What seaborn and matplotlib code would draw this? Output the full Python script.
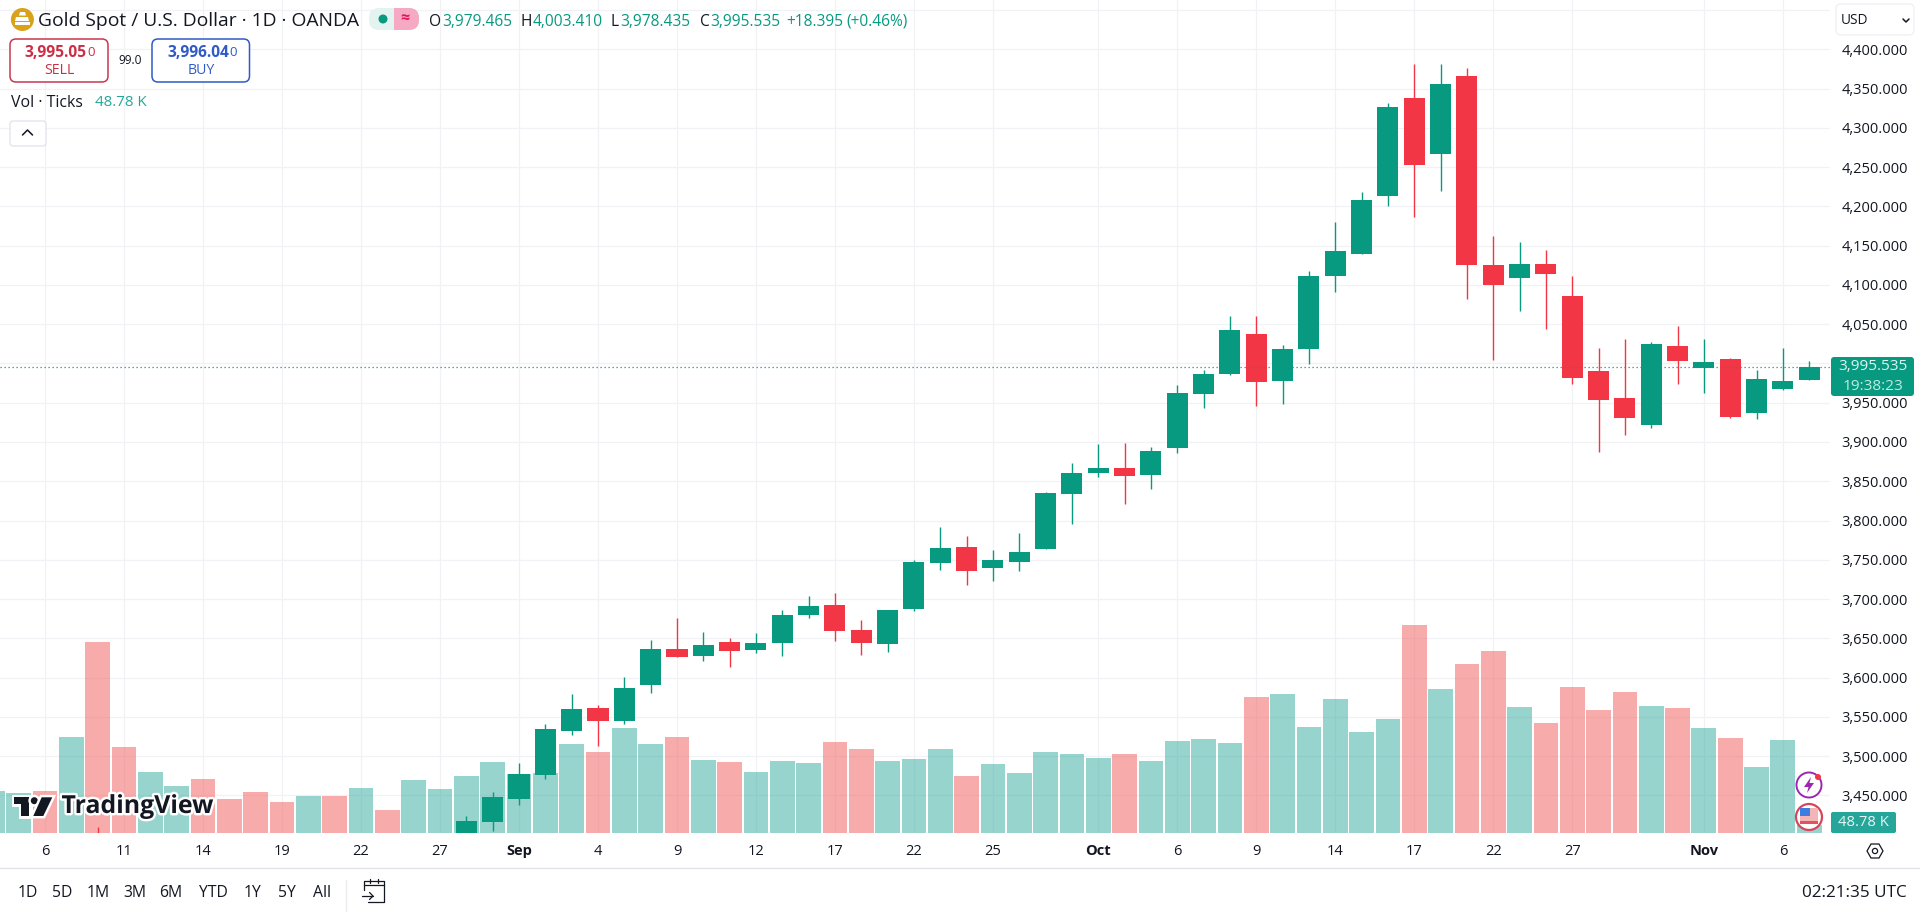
import numpy as np
import pandas as pd
import matplotlib
matplotlib.use("Agg")
import matplotlib.pyplot as plt
import matplotlib.patheffects as pe
from matplotlib.patches import FancyBboxPatch, Circle, Polygon, Rectangle
import seaborn as sns

# XAUUSD daily sessions (August bodies sit below the pane)
opens = [3362, 3373, 3381, 3369, 3396, 3394, 3342, 3348, 3356, 3337,
         3336, 3332, 3315, 3347, 3339, 3371, 3365, 3393, 3396, 3416.6,
         3445.4, 3476, 3532, 3561.3, 3544.7, 3590.6, 3636.4, 3627.5, 3645.3, 3635.1,
         3644, 3679.7, 3692.4, 3660.6, 3642.7, 3687.3, 3745.9, 3766.2, 3739.5, 3747.1,
         3764.1, 3833.3, 3860, 3866.4, 3857.5, 3891.8, 3960.5, 3986, 4038.1, 3977.1,
         4017.8, 4111.6, 4140, 4212.6, 4338.1, 4267.3, 4366.1, 4125.6, 4109.1, 4126.9,
         4086.2, 3990.7, 3956.4, 3921.2, 4022.6, 3994.6, 4006, 3937.3, 3967.9, 3979.465]
highs = [3385, 3391, 3385, 3397, 3409.4, 3399, 3358, 3369, 3375, 3349,
         3358, 3345, 3350, 3351, 3378, 3376, 3393, 3398, 3423.8, 3454.3,
         3491.3, 3540.9, 3579.1, 3565.1, 3600.8, 3647.9, 3675.9, 3658, 3650.4, 3656.7,
         3686, 3703.9, 3707.7, 3673.3, 3686.5, 3749.7, 3791.7, 3780.2, 3762.4, 3784.1,
         3835.8, 3872.7, 3896.9, 3898.2, 3893.1, 3972, 3992.3, 4061, 4059.8, 4024.1,
         4118.3, 4180.3, 4218.5, 4331.7, 4381.3, 4381.3, 4376.3, 4162.5, 4154.9, 4145.1,
         4110.8, 4020, 4031.5, 4027.2, 4048, 4031.5, 4006.7, 3992, 4020, 4003.41]
lows = [3346, 3358, 3358, 3365, 3378, 3341, 3331, 3345, 3330, 3330,
        3323, 3315, 3311, 3326, 3321, 3351, 3352, 3376, 3387, 3405.1,
        3438.2, 3470.9, 3526.9, 3512.9, 3540.9, 3580.4, 3626, 3621.1, 3613.5, 3631.3,
        3627.5, 3675.8, 3646.6, 3628.7, 3632.6, 3684.8, 3737, 3717.9, 3722.9, 3735.7,
        3764.1, 3795.1, 3854.9, 3820.6, 3839.6, 3885.5, 3942.7, 3985, 3945.3, 3947.8,
        3998.7, 4091.3, 4139, 4200.7, 4186.7, 4220.2, 4081.5, 4004.7, 4067.1, 4044.2,
        3973.4, 3887.7, 3909.3, 3917.4, 3973.4, 3962.8, 3930.1, 3929.7, 3965.7, 3978.435]
closes = [3373, 3381, 3369, 3396, 3394, 3342, 3348, 3356, 3335, 3336,
          3332, 3315, 3347, 3339, 3371, 3365, 3393, 3396, 3417.4, 3448,
          3477.3, 3534.6, 3560, 3544.7, 3586.8, 3636.4, 3626.2, 3641.5, 3633.8, 3644,
          3679.7, 3691.1, 3659.3, 3644, 3686, 3747.1, 3765, 3735.7, 3749.7, 3759.9,
          3835, 3860, 3866.4, 3856.2, 3888, 3961.8, 3986, 4043.2, 3975.8, 4017.8,
          4111.9, 4143.4, 4208.3, 4326.6, 4253.3, 4355.9, 4124.8, 4099.3, 4126.9, 4114.2,
          3981.8, 3953, 3930.1, 4025.1, 4002.6, 4002.2, 3932.2, 3980.6, 3978, 3995.535]
# tick volume in thousands
volume = [265, 252, 265, 609, 1213, 545, 386, 297, 341, 214,
          259, 195, 233, 233, 284, 144, 335, 278, 361, 450,
          373, 378, 564, 513, 666, 564, 609, 462, 450, 386,
          456, 443, 577, 532, 456, 469, 532, 361, 437, 380,
          513, 501, 475, 501, 456, 583, 596, 571, 863, 882,
          672, 851, 641, 723, 1321, 914, 1073, 1156, 800, 698,
          927, 781, 895, 806, 793, 666, 602, 418, 590, 48.78]
tick_dates = ["2025-08-06", "2025-08-11", "2025-08-14", "2025-08-19", "2025-08-22", "2025-08-27",
              "2025-09-01", "2025-09-04", "2025-09-09", "2025-09-12", "2025-09-17", "2025-09-22",
              "2025-09-25", "2025-10-01", "2025-10-06", "2025-10-09", "2025-10-14", "2025-10-17",
              "2025-10-22", "2025-10-27", "2025-11-03", "2025-11-06"]
tick_names = ["6", "11", "14", "19", "22", "27", "Sep", "4", "9", "12", "17", "22",
              "25", "Oct", "6", "9", "14", "17", "22", "27", "Nov", "6"]
price_ticks = list(range(3450, 4451, 50))
last_price = 3995.535

UP = "#089981"
DOWN = "#F23645"
INK = "#131722"
GRID = "#F0F2F6"

sns.set_style("white")
plt.rcParams["font.family"] = ["Open Sans", "DejaVu Sans"]

df = pd.DataFrame({"date": pd.bdate_range("2025-08-04", "2025-11-07"), "open": opens, "high": highs,
                   "low": lows, "close": closes, "volume": volume})
df["pos"] = np.arange(len(df))
df["side"] = np.where(df["close"] >= df["open"], "up", "down")

W, H = 1920, 913
pane_right, pane_bottom = 1830, 832.7
fig = plt.figure(figsize=(W / 100, H / 100), dpi=100, facecolor="white")

# price axes holds the grid and ticks, volume and candles sit on twins above it
ax = fig.add_axes([0, 1 - pane_bottom / H, pane_right / W, pane_bottom / H])
ax_vol = ax.twinx()
ax_candle = ax.twinx()
ax.set_zorder(1)
ax_vol.set_zorder(2)
ax_candle.set_zorder(3)
ax_vol.patch.set_visible(False)
ax_candle.patch.set_visible(False)

sns.barplot(data=df, x="pos", y="volume", hue="side", palette={"up": "#26A69A", "down": "#EF5350"},
            native_scale=True, dodge=False, width=0.94, saturation=1, alpha=0.48, linewidth=0,
            legend=False, ax=ax_vol)

colors = [UP if s == "up" else DOWN for s in df["side"]]
ax_candle.vlines(df["pos"], df["low"], df["high"], colors=colors, linewidth=1.0)
ax_candle.bar(df["pos"], df["close"] - df["open"], bottom=df["open"], width=0.8, color=colors, linewidth=0)
ax_candle.axhline(last_price, color=UP, linewidth=0.9, linestyle=(0, (1, 2.2)), zorder=5)

xlim = (0.29, 69.79)
ylim = (3402.5, 4462.8)
for a in (ax, ax_vol, ax_candle):
    a.set_xlim(xlim)
    a.set_xlabel("")
    a.set_ylabel("")
    sns.despine(ax=a, left=True, right=True, top=True, bottom=True)
ax.set_ylim(ylim)
ax_candle.set_ylim(ylim)
ax_vol.set_ylim(0, 5298)
ax_vol.set_yticks([])
ax_candle.set_yticks([])
ax_vol.tick_params(labelbottom=False, bottom=False)
ax_candle.tick_params(labelbottom=False, bottom=False)

pos_lookup = dict(zip(df["date"].dt.strftime("%Y-%m-%d"), df["pos"]))
ax.set_xticks([pos_lookup[d] for d in tick_dates])
ax.set_xticklabels(tick_names, fontsize=10.5, color=INK)
for lab in ax.get_xticklabels():
    if lab.get_text() in ("Sep", "Oct", "Nov"):
        lab.set_fontweight("bold")
ax.set_yticks(price_ticks)
ax.set_yticklabels(["" if v == 4450 else f"{v:,.3f}" for v in price_ticks], fontsize=10.5, color=INK)
ax.yaxis.tick_right()
ax.tick_params(axis="x", length=0, pad=8)
ax.tick_params(axis="y", length=0, pad=8.2)
ax.grid(True, color=GRID, linewidth=0.9)
ax.set_axisbelow(True)

# TradingView chrome, placed in screen pixels
ui = fig.add_axes([0, 0, 1, 1], zorder=10)
ui.set_xlim(0, W)
ui.set_ylim(H, 0)
ui.axis("off")


def box(x0, y0, x1, y1, fc="white", ec="none", r=5, lw=1.0):
    p = FancyBboxPatch((x0 + r, y0 + r), x1 - x0 - 2 * r, y1 - y0 - 2 * r, boxstyle=f"round,pad={r}",
                       fc=fc, ec=ec, lw=lw, mutation_aspect=1)
    ui.add_patch(p)


def put(x, y, s, size=10.2, color=INK, ha="left", weight="normal"):
    ui.text(x, y, s, fontsize=size, color=color, ha=ha, va="center", fontweight=weight)


# title row
ui.add_patch(Circle((22.4, 19.5), 11.5, fc="#D9A21B", ec="none"))
ui.add_patch(Polygon([(16, 17), (28, 17), (29, 21), (15, 21)], fc="white", ec="none"))
ui.add_patch(Polygon([(20, 12), (25, 12), (26, 15.5), (19, 15.5)], fc="white", ec="none"))
ui.add_patch(Rectangle((14.5, 22), 15, 3, fc="white", ec="none"))
put(38.5, 21, "Gold Spot / U.S. Dollar · 1D · OANDA", size=13.9)
box(369, 8, 419, 30, fc="#E3F3F0", r=10)
ui.add_patch(FancyBboxPatch((404, 18), 5, 2, boxstyle="round,pad=10", fc="#F6A9C3", ec="none"))
ui.add_patch(Rectangle((394, 8), 10, 22, fc="#F6A9C3", ec="none"))
ui.add_patch(Circle((383, 19), 4.5, fc=UP, ec="none"))
put(405, 19, "≈", size=11.5, color="#E0185F", ha="center", weight="bold")

header = [(429, "O", INK), (442.5, "3,979.465", UP), (520, "H", INK), (532.5, "4,003.410", UP),
          (611, "L", INK), (620.5, "3,978.435", UP), (700, "C", INK), (710, "3,995.535", UP),
          (786, "+18.395", UP), (846, "(+0.46%)", UP)]
for hx, htxt, hcol in header:
    put(hx, 22, htxt, size=11.2, color=hcol)

# sell / buy boxes
box(10, 39, 108, 82, ec="#C9384E", r=6, lw=1.1)
put(24, 53, "3,995.05", size=11.2, color="#CC2F45", weight="bold")
put(87, 52, "0", size=9.5, color="#CC2F45")
put(59, 70.5, "SELL", size=10.2, color="#CC2F45", ha="center")
put(130.5, 60, "99.0", size=8.6, ha="center")
box(152, 39, 249.5, 82, ec="#2F5BC8", r=6, lw=1.1)
put(167, 53, "3,996.04", size=11.2, color="#2F5BC8", weight="bold")
put(229, 52, "0", size=9.5, color="#2F5BC8")
put(201, 70.5, "BUY", size=10.2, color="#2F5BC8", ha="center")

put(11, 103, "Vol · Ticks", size=11.4)
put(95, 103, "48.78 K", size=10.9, color="#26A69A")
box(10, 121, 46, 146, ec="#E0E3EB", r=3, lw=0.9)
ui.plot([22.5, 27.5, 32.5], [135, 130, 135], color=INK, lw=1.1)

# USD selector
box(1836, 4, 1914, 35, ec="#EEF0F3", r=5, lw=0.9)
put(1841, 20.5, "USD", size=9.8)
ui.plot([1903, 1906, 1909], [19, 22, 19], color=INK, lw=1.1)

# last price tag
box(1831, 357, 1914, 396, fc=UP, r=3)
put(1872.5, 367, "3,995.535", size=11.1, color="#DDF5EF", ha="center")
put(1872.5, 386, "19:38:23", size=11.1, color="#BFEBE0", ha="center")
box(1831, 812, 1896, 833, fc="#26A69A", r=2)
put(1863.5, 822.5, "48.78 K", size=10.6, color="#E6F6F3", ha="center")

# event icons
ui.add_patch(Circle((1809, 785), 12.5, fc="white", ec="#9C27B0", lw=1.4))
ui.add_patch(Polygon([(1811, 777), (1804, 787), (1808.5, 787), (1807, 793), (1814, 783), (1809.5, 783)],
                     fc="#9C27B0", ec="none"))
ui.add_patch(Circle((1818, 777), 3, fc="#F23645", ec="none"))
ui.add_patch(Circle((1809, 817), 13, fc="white", ec="#D8455A", lw=1.6))
ui.add_patch(Rectangle((1800, 808), 18, 13, fc="#F3B5B5", ec="none"))
ui.add_patch(Rectangle((1800, 808), 10, 8, fc="#3D7DE0", ec="none"))
ui.add_patch(Rectangle((1800, 821), 18, 3, fc="#E8505B", ec="none"))

# watermark
halo = [pe.withStroke(linewidth=3.5, foreground="white")]
logo_parts = [Polygon([(14, 797.3), (29.3, 797.3), (29.3, 816), (20.7, 816), (20.7, 804), (14, 804)], fc="#131722", ec="none"),
              Circle((34.3, 800.7), 3.5, fc="#131722", ec="none"),
              Polygon([(41.7, 797.3), (52.3, 797.3), (43.3, 816), (33.3, 816)], fc="#131722", ec="none")]
for part in logo_parts:
    part.set_path_effects([pe.Stroke(linewidth=3.5, foreground="white"), pe.Normal()])
    ui.add_patch(part)
ui.text(61.5, 806.5, "TradingView", fontsize=17.9, fontweight="bold", family="Open Sans", color="#131722",
        ha="left", va="center", path_effects=halo)

# bottom bar
ui.plot([0, W], [868, 868], color="#E0E3EB", lw=1.0)
ui.plot([345.5, 345.5], [880, 911], color="#E8EAEE", lw=0.9)
for rx, rtxt in zip([28, 62.5, 98.6, 135, 171, 213, 253, 286.6, 322],
                    ["1D", "5D", "1M", "3M", "6M", "YTD", "1Y", "5Y", "All"]):
    put(rx, 893, rtxt, size=11.3, ha="center")
put(1907, 893, "02:21:35 UTC", size=12.3, ha="right")
# calendar icon
ui.plot([364, 364, 384, 384, 368], [890, 881, 881, 902, 902], color=INK, lw=0.9)
ui.plot([364, 384], [885.5, 885.5], color=INK, lw=0.9)
ui.plot([370, 370], [879, 883], color=INK, lw=0.9)
ui.plot([378, 378], [879, 883], color=INK, lw=0.9)
ui.plot([362, 373], [896, 896], color=INK, lw=0.9)
ui.plot([369.5, 373, 369.5], [892.5, 896, 899.5], color=INK, lw=0.9)
# settings hexagon
ui.add_patch(Polygon([(1867, 851), (1871, 844), (1879, 844), (1883, 851), (1879, 858), (1871, 858)],
                     fc="white", ec=INK, lw=0.9))
ui.add_patch(Circle((1875, 851), 2.6, fc="white", ec=INK, lw=0.9))

fig.savefig("out.png", dpi=100, facecolor="white")
